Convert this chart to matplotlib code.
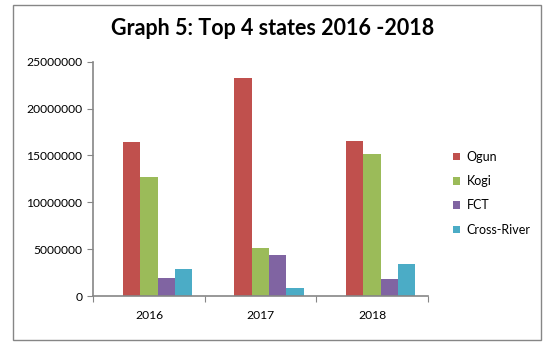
import numpy as np
import matplotlib.pyplot as plt
from matplotlib.patches import Rectangle

years = ["2016", "2017", "2018"]
states = ["Ogun", "Kogi", "FCT", "Cross-River"]
ogun = [16400000, 23300000, 16500000]
kogi = [12650000, 5100000, 15100000]
fct = [1900000, 4350000, 1800000]
cross_river = [2870000, 850000, 3440000]
colors = ["#C0504D", "#9BBB59", "#8064A2", "#4BACC6"]

plt.rcParams['font.family'] = ['Lato', 'DejaVu Sans']

fig = plt.figure(figsize=(5.57, 3.56), dpi=100)
ax = fig.add_axes([0.1675, 0.1685, 0.6005, 0.6582])

x = np.arange(len(years))
width = 0.155
shift = 0.076
series = [ogun, kogi, fct, cross_river]
for i, (name, vals) in enumerate(zip(states, series)):
    ax.bar(x + shift + (i - 1.5) * width, vals, width, color=colors[i], label=name)

ax.set_xlim(-0.5, 2.5)
ax.set_ylim(0, 25000000)
ax.set_yticks(np.arange(0, 25000001, 5000000))
ax.set_yticklabels([f"{int(v)}" for v in np.arange(0, 25000001, 5000000)])

gray = "#868686"
for s in ["top", "right"]:
    ax.spines[s].set_visible(False)
for s in ["left", "bottom"]:
    ax.spines[s].set_color(gray)
    ax.spines[s].set_linewidth(1.2)

ax.set_xticks([-0.5, 0.5, 1.5, 2.5])
ax.set_xticklabels([])
ax.set_xticks(x, minor=True)
ax.set_xticklabels(years, minor=True)
ax.tick_params(axis="x", which="major", direction="out", length=4, color=gray)
ax.tick_params(axis="x", which="minor", length=0, pad=10, labelsize=8.7)
ax.tick_params(axis="y", direction="out", length=4, color=gray, pad=4, labelsize=8.7)

fig.suptitle("Graph 5: Top 4 states 2016 -2018", x=0.49, y=0.95,
             fontsize=15.5, fontweight="bold")

leg = fig.legend(loc="upper left", bbox_to_anchor=(0.805, 0.59), frameon=False,
                 fontsize=9, handlelength=0.55, handleheight=0.55,
                 handletextpad=0.5, labelspacing=0.98, borderaxespad=0)

fig.patches.append(Rectangle((13 / 557, 1 - 340 / 356), 528 / 557, 335 / 356,
                             transform=fig.transFigure, fill=False,
                             edgecolor=gray, linewidth=1))

fig.savefig("out.png", dpi=100)
